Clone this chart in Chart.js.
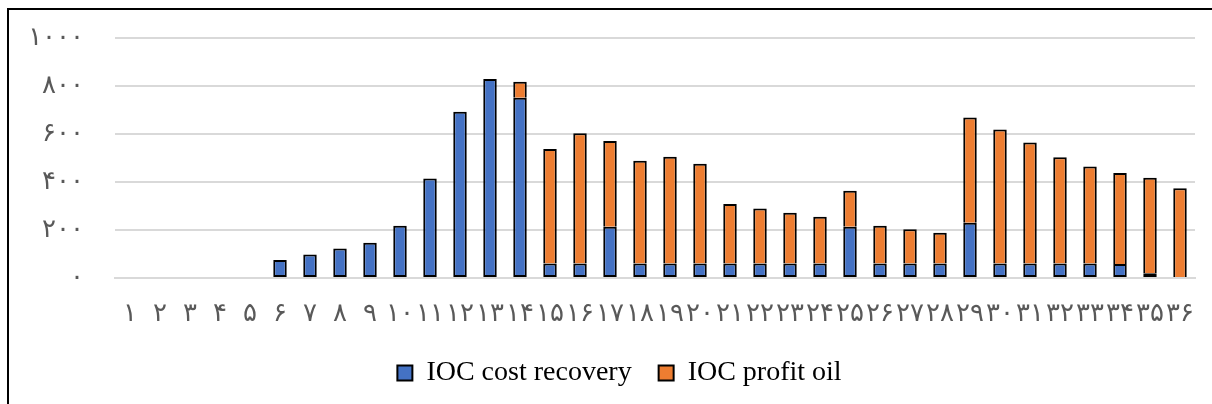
<!DOCTYPE html>
<html>
<head>
<meta charset="utf-8">
<script src="https://cdn.jsdelivr.net/npm/chart.js@4"></script>
<style>
  html, body { margin: 0; padding: 0; background: #fff; }
  #wrap { position: relative; width: 1212px; height: 404px; }
  #frame { position: absolute; left: 7px; top: 8px; right: 0; bottom: 0;
           border-top: 2px solid #000; border-left: 2px solid #000; pointer-events: none; }
  canvas { position: absolute; left: 0; top: 0; }
</style>
</head>
<body>
<div id="wrap">
  <canvas id="chart" width="1212" height="404"></canvas>
  <div id="frame"></div>
</div>
<script>
// Contract years 1..36, written with Persian digits
const years = ['۱','۲','۳','۴','۵','۶','۷','۸','۹','۱۰','۱۱','۱۲','۱۳','۱۴','۱۵','۱۶','۱۷','۱۸',
               '۱۹','۲۰','۲۱','۲۲','۲۳','۲۴','۲۵','۲۶','۲۷','۲۸','۲۹','۳۰','۳۱','۳۲','۳۳','۳۴','۳۵','۳۶'];

// IOC cost recovery per year
const costRecovery = [0, 0, 0, 0, 0, 75, 98, 123, 147, 218, 415, 693, 829, 751, 60, 60, 214, 60,
                      60, 60, 60, 60, 60, 60, 214, 60, 60, 60, 230, 60, 60, 60, 60, 58, 20, 0];

// IOC profit oil per year
const profitOil = [0, 0, 0, 0, 0, 0, 0, 0, 0, 0, 0, 0, 0, 67, 477, 543, 357, 429,
                   445, 416, 248, 230, 212, 195, 150, 158, 143, 129, 439, 559, 505, 443, 405, 379, 398, 374];

// Value-axis labels (0..1000 step 200) in Persian digits
const yTickValues = [0, 200, 400, 600, 800, 1000];
const yTickLabels = ['۰', '۲۰۰', '۴۰۰', '۶۰۰', '۸۰۰', '۱۰۰۰'];

const digitFont = "'DejaVu Sans', sans-serif";
const axisGray = '#595959';

// Nudge the legend row to the right so it sits centred under the plot
const legendShift = {
  id: 'legendShift',
  afterLayout(chart) {
    const lg = chart.legend;
    if (lg) { lg.left += 22; lg.right += 22; }
  }
};

new Chart(document.getElementById('chart'), {
  type: 'bar',
  data: {
    labels: years,
    datasets: [
      {
        label: 'IOC cost recovery',
        data: costRecovery,
        backgroundColor: '#4472C4',
        borderColor: '#000',
        borderWidth: 2,
        borderSkipped: false
      },
      {
        label: 'IOC profit oil',
        data: profitOil,
        backgroundColor: '#ED7D31',
        borderColor: '#000',
        borderWidth: 2,
        borderSkipped: 'start'
      }
    ]
  },
  plugins: [legendShift],
  options: {
    responsive: false,
    animation: false,
    devicePixelRatio: 1,
    datasets: { bar: { categoryPercentage: 1, barPercentage: 0.45 } },
    layout: { padding: { left: 0, right: 17, top: 38, bottom: 7 } },
    scales: {
      x: {
        stacked: true,
        grid: { display: false, drawTicks: false },
        border: { display: true, color: '#d9d9d9', width: 2 },
        ticks: {
          autoSkip: false, maxRotation: 0, minRotation: 0, padding: 21,
          color: axisGray, font: { family: digitFont, size: 26 }
        },
        afterFit: s => { s.height = 54; s.paddingLeft = 0; s.paddingRight = 0; }
      },
      y: {
        stacked: true,
        min: 0, max: 1000,
        afterBuildTicks: s => { s.ticks = yTickValues.map(v => ({ value: v })); },
        grid: { color: '#d9d9d9', lineWidth: 2, drawTicks: false },
        border: { display: false },
        ticks: {
          padding: 31, color: axisGray, font: { family: digitFont, size: 26 },
          callback: (v) => yTickLabels[yTickValues.indexOf(v)]
        },
        afterFit: s => { s.width = 115; s.paddingTop = 16; s.paddingBottom = 16; }
      }
    },
    plugins: {
      tooltip: { enabled: false },
      legend: {
        position: 'bottom',
        labels: {
          color: '#000',
          boxWidth: 15, boxHeight: 15,
          padding: 27,
          font: { family: "'Liberation Serif', 'Times New Roman', serif", size: 28 }
        }
      }
    }
  }
});
</script>
</body>
</html>
